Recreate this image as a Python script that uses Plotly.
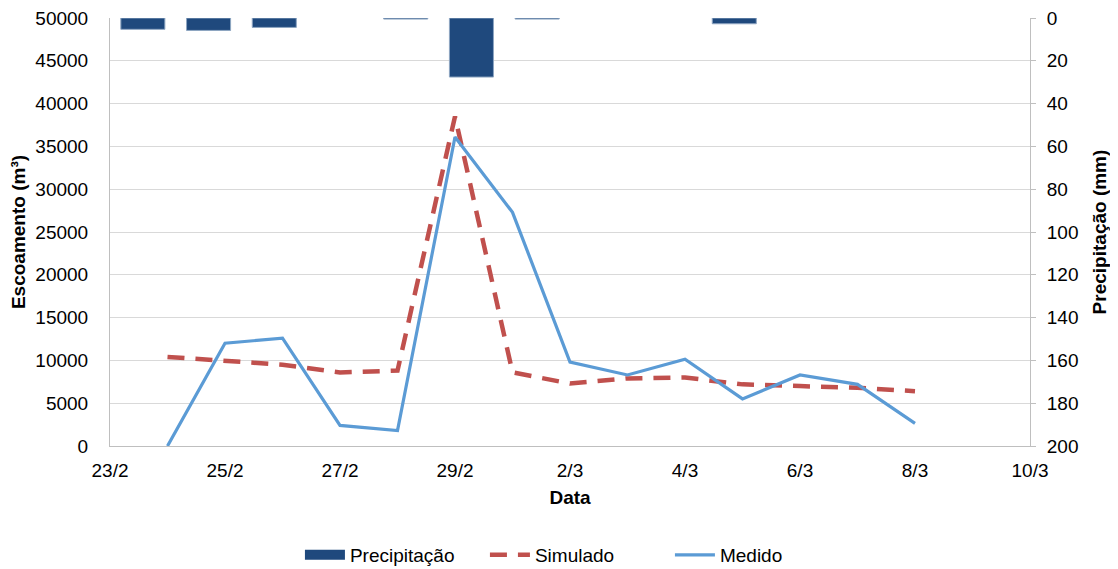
import plotly.graph_objects as go

dates = ["2012-02-24", "2012-02-25", "2012-02-26", "2012-02-27", "2012-02-28",
         "2012-02-29", "2012-03-01", "2012-03-02", "2012-03-03", "2012-03-04",
         "2012-03-05", "2012-03-06", "2012-03-07", "2012-03-08"]
bar_labels = ["24/2", "25/2", "26/2", "27/2", "28/2", "29/2", "1/3", "2/3",
              "3/3", "4/3", "5/3", "6/3", "7/3", "8/3"]
precipitacao = [5.3, 5.8, 4.4, 0, 0.5, 27.6, 0.5, 0, 0, 2.7, 0, 0, 0, 0]
simulado = [10400, 9900, 9500, 8600, 8800, 38500, 8600, 7300, 7900, 8000,
            7200, 7000, 6800, 6400]
medido = [0, 12000, 12600, 2400, 1800, 36100, 27300, 9800, 8300, 10150,
          5500, 8300, 7200, 2650]

font_family = "Liberation Sans, Arial, sans-serif"
FS = 19
BAR_COLOR = "#1F497D"

fig = go.Figure()
fig.add_trace(go.Bar(
    x=bar_labels, y=precipitacao, name="Precipitação",
    xaxis="x2", yaxis="y2", width=0.67, showlegend=False,
    legendgroup="p",
    marker=dict(color=BAR_COLOR,
                line=dict(color="#8EA6C2",
                          width=[1 if v > 0 else 0 for v in precipitacao])),
))
# legend entry styled like the reference's wide bar swatch
fig.add_trace(go.Scatter(
    x=[None], y=[None], name="Precipitação", mode="lines",
    legendgroup="p",
    line=dict(color=BAR_COLOR, width=11),
))
fig.add_trace(go.Scatter(
    x=dates, y=simulado, name="Simulado", mode="lines",
    line=dict(color="#C0504D", width=4.5, dash="17px,11px"),
))
fig.add_trace(go.Scatter(
    x=dates, y=medido, name="Medido", mode="lines",
    line=dict(color="#5B9BD5", width=3.2),
))

# the page body has an 8px default margin, so the figure is sized/offset to compensate
fig.update_layout(
    width=1110, height=561,
    margin=dict(l=102, r=88, t=10, b=123),
    paper_bgcolor="white", plot_bgcolor="white",
    font=dict(family=font_family, size=FS, color="#000000"),
    showlegend=True,
    legend=dict(orientation="h", xref="container", yref="container",
                x=0.263, xanchor="left", y=0.025, yanchor="middle",
                font=dict(size=FS), traceorder="normal",
                entrywidth=130, itemwidth=40),
    xaxis=dict(
        type="date", range=["2012-02-23", "2012-03-10"],
        tick0="2012-02-23", dtick=2 * 86400000, tickformat="%-d/%-m",
        showgrid=False, showline=True, linecolor="#BFBFBF", linewidth=1,
        ticks="", ticklabelstandoff=7, tickfont=dict(size=FS),
        title=dict(text="<b>Data</b>", font=dict(size=FS), standoff=10),
        zeroline=False, automargin=False, ticklabeloverflow="allow",
    ),
    xaxis2=dict(
        type="category", overlaying="x", range=[-0.5, 13.5],
        visible=False, showgrid=False, automargin=False,
    ),
    yaxis=dict(
        range=[0, 50000], dtick=5000, tickformat="d",
        showgrid=True, gridcolor="#D9D9D9",
        gridwidth=1, showline=True, linecolor="#BFBFBF", linewidth=1,
        ticks="", ticklabelstandoff=17, tickfont=dict(size=FS),
        zeroline=False, automargin=False, ticklabeloverflow="allow",
        title=dict(text="<b>Escoamento (m³)</b>", font=dict(size=FS), standoff=6),
    ),
    yaxis2=dict(
        range=[200, 0], dtick=20, overlaying="y", side="right",
        anchor="x2", showgrid=False, showline=True, linecolor="#BFBFBF",
        linewidth=1, ticks="outside", ticklen=5, tickcolor="#BFBFBF",
        ticklabelstandoff=7, tickfont=dict(size=FS), zeroline=False,
        automargin=False, ticklabeloverflow="allow",
        title=dict(text="<b>Precipitação (mm)</b>", font=dict(size=FS), standoff=15),
    ),
)

fig.write_html("out.html")
